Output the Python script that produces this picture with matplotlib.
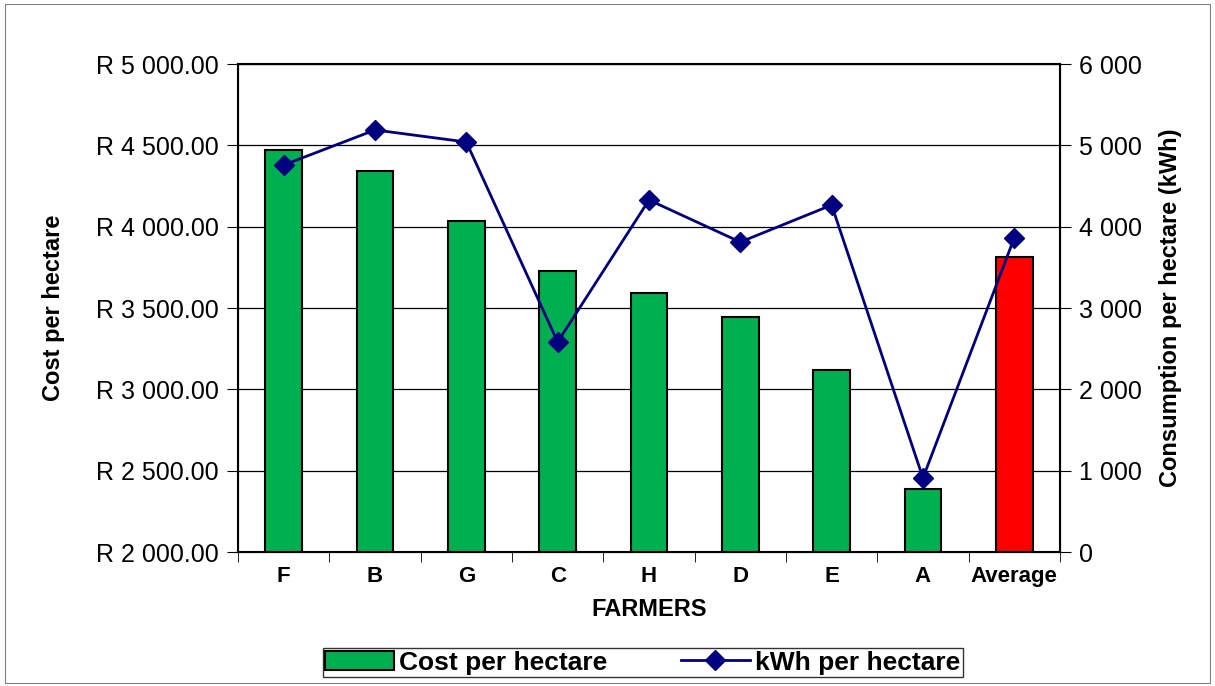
import numpy as np
import matplotlib.pyplot as plt
from matplotlib.patches import Rectangle

farmers = ['F', 'B', 'G', 'C', 'H', 'D', 'E', 'A', 'Average']
cost = [4471, 4342, 4035, 3727, 3592, 3445, 3119, 2389, 3815]
kwh = [4758, 5189, 5041, 2582, 4328, 3811, 4266, 910, 3864]

plt.rcParams['font.family'] = ['Liberation Sans', 'DejaVu Sans']
fig = plt.figure(figsize=(12.15, 6.86), dpi=100)
fig.patches.append(Rectangle((0.004, 0.004), 0.992, 0.99, transform=fig.transFigure,
                             fill=False, edgecolor='#808080', lw=0.8))
ax = fig.add_axes([0.1959, 0.1953, 0.6765, 0.7114])
x = np.arange(len(farmers))
colors = ['#00b050'] * 8 + ['#ff0000']
bars = ax.bar(x, cost, width=0.4, color=colors, edgecolor='black', lw=1.5, zorder=2,
              label='Cost per hectare')
ax.set_ylim(2000, 5000)
ax.set_xlim(-0.5, len(farmers) - 0.5)
ax.set_yticks(np.arange(2000, 5001, 500))
ax.set_yticklabels(['R {:,.2f}'.format(v).replace(',', ' ') for v in range(2000, 5001, 500)],
                   fontsize=18)
ax.yaxis.grid(True, color='black', lw=0.9, zorder=0)
ax.set_axisbelow(True)
ax.set_xticks(x)
ax.set_xticklabels(farmers, fontsize=16, fontweight='bold')
ax.set_xticks(np.arange(-0.5, len(farmers)), minor=True)
ax.tick_params(axis='x', which='major', length=0, pad=10)
ax.tick_params(axis='x', which='minor', length=7, direction='out')
ax.tick_params(axis='y', direction='out', length=8, pad=6)
ax.set_xlabel('FARMERS', fontsize=17, fontweight='bold', labelpad=8)
ax.set_ylabel('Cost per hectare', fontsize=17, fontweight='bold', labelpad=22)
for s in ax.spines.values():
    s.set_linewidth(1.5)

ax2 = ax.twinx()
line, = ax2.plot(x, kwh, color='#000080', lw=2, marker='D', markersize=10,
                 label='kWh per hectare')
ax2.set_ylim(0, 6000)
ax2.set_yticks(np.arange(0, 6001, 1000))
ax2.set_yticklabels(['{:,}'.format(v).replace(',', ' ') for v in range(0, 6001, 1000)],
                    fontsize=18)
ax2.tick_params(axis='y', direction='out', length=8, pad=6)
ax2.set_ylabel('Consumption per hectare (kWh)', fontsize=17, fontweight='bold', labelpad=12)

leg = fig.legend([bars, line], ['Cost per hectare', 'kWh per hectare'], ncol=2,
                 loc='center', bbox_to_anchor=(0.529, 0.034), frameon=True, fancybox=False,
                 edgecolor='black', prop={'size': 19, 'weight': 'bold'},
                 handlelength=2.6, handletextpad=0.2, columnspacing=2.8, borderpad=0.1,
                 borderaxespad=0)
leg.get_frame().set_linewidth(1)
fig.savefig('out.png', dpi=100)
